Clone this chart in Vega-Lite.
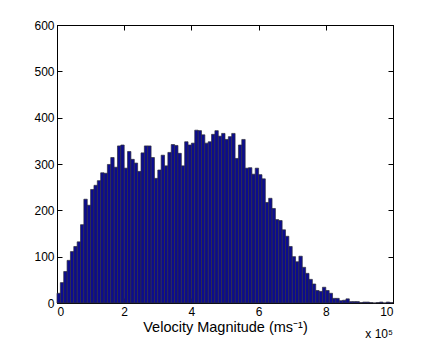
{
  "$schema": "https://vega.github.io/schema/vega-lite/v6.json",
  "autosize": {"type": "none"},
  "width": 336,
  "height": 278,
  "padding": {"left": 57, "top": 25, "right": 43, "bottom": 40},
  "background": "white",
  "config": {
    "font": "Liberation Sans",
    "view": {"stroke": "black", "strokeWidth": 1},
    "axis": {"grid": false, "domainColor": "black", "tickColor": "black", "labelColor": "black", "titleColor": "black", "labelFont": "Liberation Sans", "titleFont": "Liberation Sans", "labelFontSize": 12, "tickSize": -5, "labelPadding": 8}
  },
  "resolve": {"axis": {"x": "independent", "y": "independent"}},
  "layer": [
    {
      "data": {"values": [
        {"start":0.0,"end":0.1,"count":21},{"start":0.1,"end":0.2,"count":44},{"start":0.2,"end":0.3,"count":68},{"start":0.3,"end":0.4,"count":92},{"start":0.4,"end":0.5,"count":111},
        {"start":0.5,"end":0.6,"count":122},{"start":0.6,"end":0.7,"count":132},{"start":0.7,"end":0.8,"count":169},{"start":0.8,"end":0.9,"count":224},{"start":0.9,"end":1.0,"count":211},
        {"start":1.0,"end":1.1,"count":245},{"start":1.1,"end":1.2,"count":254},{"start":1.2,"end":1.3,"count":264},{"start":1.3,"end":1.4,"count":281},{"start":1.4,"end":1.5,"count":280},
        {"start":1.5,"end":1.6,"count":299},{"start":1.6,"end":1.7,"count":314},{"start":1.7,"end":1.8,"count":293},{"start":1.8,"end":1.9,"count":339},{"start":1.9,"end":2.0,"count":341},
        {"start":2.0,"end":2.1,"count":291},{"start":2.1,"end":2.2,"count":327},{"start":2.2,"end":2.3,"count":310},{"start":2.3,"end":2.4,"count":302},{"start":2.4,"end":2.5,"count":284},
        {"start":2.5,"end":2.6,"count":324},{"start":2.6,"end":2.7,"count":339},{"start":2.7,"end":2.8,"count":339},{"start":2.8,"end":2.9,"count":314},{"start":2.9,"end":3.0,"count":269},
        {"start":3.0,"end":3.1,"count":287},{"start":3.1,"end":3.2,"count":319},{"start":3.2,"end":3.3,"count":296},{"start":3.3,"end":3.4,"count":325},{"start":3.4,"end":3.5,"count":342},
        {"start":3.5,"end":3.6,"count":340},{"start":3.6,"end":3.7,"count":323},{"start":3.7,"end":3.8,"count":296},{"start":3.8,"end":3.9,"count":348},{"start":3.9,"end":4.0,"count":341},
        {"start":4.0,"end":4.1,"count":345},{"start":4.1,"end":4.2,"count":373},{"start":4.2,"end":4.3,"count":372},{"start":4.3,"end":4.4,"count":363},{"start":4.4,"end":4.5,"count":345},
        {"start":4.5,"end":4.6,"count":348},{"start":4.6,"end":4.7,"count":364},{"start":4.7,"end":4.8,"count":372},{"start":4.8,"end":4.9,"count":360},{"start":4.9,"end":5.0,"count":366},
        {"start":5.0,"end":5.1,"count":353},{"start":5.1,"end":5.2,"count":359},{"start":5.2,"end":5.3,"count":366},{"start":5.3,"end":5.4,"count":312},{"start":5.4,"end":5.5,"count":341},
        {"start":5.5,"end":5.6,"count":353},{"start":5.6,"end":5.7,"count":291},{"start":5.7,"end":5.8,"count":292},{"start":5.8,"end":5.9,"count":278},{"start":5.9,"end":6.0,"count":291},
        {"start":6.0,"end":6.1,"count":277},{"start":6.1,"end":6.2,"count":268},{"start":6.2,"end":6.3,"count":217},{"start":6.3,"end":6.4,"count":226},{"start":6.4,"end":6.5,"count":204},
        {"start":6.5,"end":6.6,"count":180},{"start":6.6,"end":6.7,"count":178},{"start":6.7,"end":6.8,"count":158},{"start":6.8,"end":6.9,"count":144},{"start":6.9,"end":7.0,"count":122},
        {"start":7.0,"end":7.1,"count":100},{"start":7.1,"end":7.2,"count":89},{"start":7.2,"end":7.3,"count":101},{"start":7.3,"end":7.4,"count":77},{"start":7.4,"end":7.5,"count":64},
        {"start":7.5,"end":7.6,"count":51},{"start":7.6,"end":7.7,"count":41},{"start":7.7,"end":7.8,"count":27},{"start":7.8,"end":7.9,"count":25},{"start":7.9,"end":8.0,"count":34},
        {"start":8.0,"end":8.1,"count":27},{"start":8.1,"end":8.2,"count":21},{"start":8.2,"end":8.3,"count":10},{"start":8.3,"end":8.4,"count":10},{"start":8.4,"end":8.5,"count":5},
        {"start":8.5,"end":8.6,"count":6},{"start":8.6,"end":8.7,"count":9},{"start":8.7,"end":8.8,"count":3},{"start":8.8,"end":8.9,"count":3},{"start":8.9,"end":9.0,"count":3},
        {"start":9.0,"end":9.1,"count":1},{"start":9.1,"end":9.2,"count":2},{"start":9.2,"end":9.3,"count":2},{"start":9.3,"end":9.4,"count":1},{"start":9.4,"end":9.5,"count":0},
        {"start":9.5,"end":9.6,"count":1},{"start":9.6,"end":9.7,"count":2},{"start":9.7,"end":9.8,"count":0},{"start":9.8,"end":9.9,"count":2},{"start":9.9,"end":10.0,"count":1}
      ]},
      "mark": {"type": "bar", "fill": "#0c0c8f", "stroke": "#2e2e3a", "strokeWidth": 0.7},
      "encoding": {
        "x": {"field": "start", "type": "quantitative", "scale": {"domain": [0, 10], "nice": false},
              "axis": {"values": [0, 2, 4, 6, 8, 10], "title": "Velocity Magnitude (ms⁻¹)", "titleFontSize": 14.5, "titleFontWeight": "normal", "titlePadding": 3}},
        "x2": {"field": "end"},
        "y": {"field": "count", "type": "quantitative", "scale": {"domain": [0, 600], "nice": false},
              "axis": {"values": [0, 100, 200, 300, 400, 500, 600], "title": null}},
        "y2": {"datum": 0}
      }
    },
    {
      "data": {"values": [{"label": "x 10⁵"}]},
      "mark": {"type": "text", "align": "right", "baseline": "middle", "fontSize": 12, "dy": 31, "dx": 0, "color": "black", "clip": false},
      "encoding": {
        "x": {"datum": 10, "type": "quantitative",
              "axis": {"orient": "top", "values": [0, 2, 4, 6, 8, 10], "labels": false, "title": null}},
        "y": {"datum": 0, "type": "quantitative",
              "axis": {"orient": "right", "values": [0, 100, 200, 300, 400, 500, 600], "labels": false, "title": null}},
        "text": {"field": "label"}
      }
    }
  ]
}
